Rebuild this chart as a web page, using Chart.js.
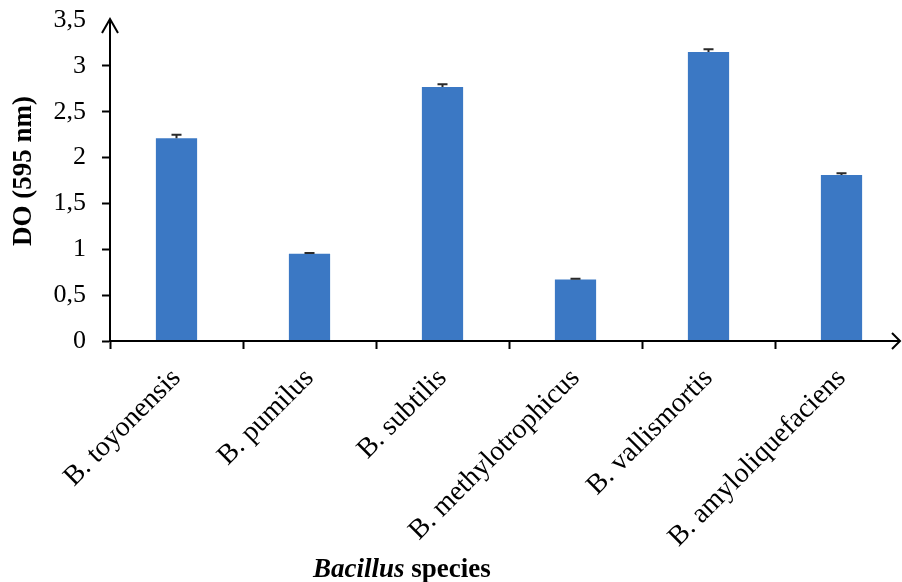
<!DOCTYPE html>
<html>
<head>
<meta charset="utf-8">
<script src="https://cdn.jsdelivr.net/npm/chart.js@4"></script>
<style>
  html, body { margin: 0; padding: 0; background: #ffffff; overflow: hidden; width: 902px; height: 582px; }
  #wrap { position: absolute; left: 0; top: 0; width: 910px; height: 582px; }
</style>
</head>
<body>
<div id="wrap"><canvas id="c" width="910" height="582"></canvas></div>
<script>
// ---- data ----
const categories = ['B. toyonensis', 'B. pumilus', 'B. subtilis', 'B. methylotrophicus', 'B. vallismortis', 'B. amyloliquefaciens'];
const doValues = [2.21, 0.95, 2.77, 0.67, 3.15, 1.81];
const doErrors = [0.04, 0.01, 0.03, 0.01, 0.03, 0.02];
const yTickValues = [0, 0.5, 1, 1.5, 2, 2.5, 3, 3.5];
const yTickLabels = ['0', '0,5', '1', '1,5', '2', '2,5', '3', '3,5'];
const yTitle = 'DO (595 nm)';
const xTitleItalic = 'Bacillus';
const xTitleRest = ' species';

const FONT = '"Liberation Serif", "Times New Roman", serif';
const BAR_COLOR = '#3b78c4';

const decorPlugin = {
  id: 'decor',
  afterDatasetsDraw(chart) {
    const ctx = chart.ctx;
    const meta = chart.getDatasetMeta(0);
    const ys = chart.scales.y;
    ctx.save();
    ctx.strokeStyle = '#2a2a2a';
    ctx.lineWidth = 2;
    meta.data.forEach((bar, i) => {
      const yv = ys.getPixelForValue(doValues[i]);
      const yt = ys.getPixelForValue(doValues[i] + doErrors[i]);
      ctx.beginPath();
      ctx.moveTo(bar.x, yv);
      ctx.lineTo(bar.x, yt);
      ctx.moveTo(bar.x - 5, yt);
      ctx.lineTo(bar.x + 5, yt);
      ctx.stroke();
    });
    ctx.restore();
  },
  afterDraw(chart) {
    const ctx = chart.ctx;
    const a = chart.chartArea;
    ctx.save();
    ctx.strokeStyle = '#000';
    ctx.lineWidth = 2;
    // x axis line with arrow
    const xEnd = 900;
    ctx.beginPath();
    ctx.moveTo(a.left, a.bottom);
    ctx.lineTo(xEnd, a.bottom);
    ctx.stroke();
    ctx.beginPath();
    ctx.moveTo(xEnd - 8, a.bottom - 8);
    ctx.lineTo(xEnd, a.bottom);
    ctx.lineTo(xEnd - 8, a.bottom + 8);
    ctx.stroke();
    // y axis arrow head
    ctx.beginPath();
    ctx.moveTo(a.left - 8, a.top + 13);
    ctx.lineTo(a.left, a.top - 1);
    ctx.lineTo(a.left + 8, a.top + 13);
    ctx.stroke();
    // y title
    ctx.fillStyle = '#000';
    ctx.font = 'bold 27px ' + FONT;
    ctx.textAlign = 'center';
    ctx.textBaseline = 'middle';
    ctx.translate(24, 171);
    ctx.rotate(-Math.PI / 2);
    ctx.fillText(yTitle, 0, 0);
    ctx.restore();
    // x title
    ctx.save();
    ctx.fillStyle = '#000';
    ctx.textAlign = 'left';
    ctx.textBaseline = 'alphabetic';
    ctx.font = 'italic bold 27px ' + FONT;
    const x0 = 313, yb = 577;
    ctx.fillText(xTitleItalic, x0, yb);
    const w = ctx.measureText(xTitleItalic).width;
    ctx.font = 'bold 27px ' + FONT;
    ctx.fillText(xTitleRest, x0 + w, yb);
    ctx.restore();
  }
};

new Chart(document.getElementById('c'), {
  type: 'bar',
  data: {
    labels: categories,
    datasets: [{
      data: doValues,
      backgroundColor: BAR_COLOR,
      borderWidth: 0,
      barPercentage: 0.31,
      categoryPercentage: 1.0
    }]
  },
  options: {
    responsive: false,
    animation: false,
    layout: { padding: { left: 0, top: 20, right: 2, bottom: 0 } },
    plugins: { legend: { display: false }, tooltip: { enabled: false } },
    scales: {
      x: {
        type: 'category',
        offset: true,
        afterFit(scale) {
          scale.height = 241;
          scale.paddingLeft = 0; scale.paddingRight = 0;
          scale.paddingTop = 0; scale.paddingBottom = 0;
        },
        grid: {
          offset: true,
          drawOnChartArea: false,
          drawTicks: true,
          tickLength: 8,
          tickWidth: 2,
          tickColor: '#000'
        },
        border: { display: false },
        ticks: {
          color: '#000',
          font: { family: FONT, size: 28 },
          minRotation: 45,
          maxRotation: 45,
          autoSkip: false,
          padding: 13
        }
      },
      y: {
        min: 0,
        max: 3.5,
        afterFit(scale) {
          scale.width = 110;
          scale.paddingTop = 0; scale.paddingBottom = 0;
          scale.paddingLeft = 0; scale.paddingRight = 0;
        },
        afterBuildTicks(scale) { scale.ticks = yTickValues.map(v => ({ value: v })); },
        grid: {
          drawOnChartArea: false,
          drawTicks: true,
          tickLength: 8,
          tickWidth: 2,
          tickColor: (c) => (c.tick && c.tick.value === 3.5) ? 'rgba(0,0,0,0)' : '#000'
        },
        border: { display: true, color: '#000', width: 2 },
        ticks: {
          color: '#000',
          font: { family: FONT, size: 26 },
          padding: 16,
          callback: (v) => yTickLabels[yTickValues.indexOf(v)]
        }
      }
    }
  },
  plugins: [decorPlugin]
});
</script>
</body>
</html>
